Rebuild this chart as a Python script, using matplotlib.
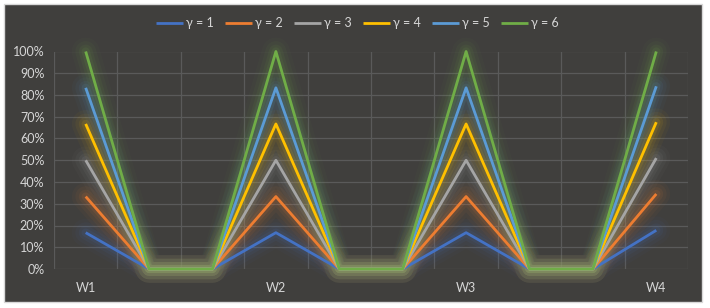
import numpy as np
import matplotlib.pyplot as plt
from matplotlib.patches import Rectangle

# categories (only every third one is labelled)
weeks = ["W1", "", "", "W2", "", "", "W3", "", "", "W4"]
labels = ["γ = 1", "γ = 2", "γ = 3", "γ = 4", "γ = 5", "γ = 6"]

g1 = [16.7, 0, 0, 16.7, 0, 0, 16.7, 0, 0, 17.8]
g2 = [33.3, 0, 0, 33.3, 0, 0, 33.3, 0, 0, 34.5]
g3 = [50.0, 0, 0, 50.0, 0, 0, 50.0, 0, 0, 51.0]
g4 = [66.7, 0, 0, 66.7, 0, 0, 66.7, 0, 0, 67.5]
g5 = [83.3, 0, 0, 83.3, 0, 0, 83.3, 0, 0, 84.0]
g6 = [100, 0, 0, 100, 0, 0, 100, 0, 0, 100]
series = [g1, g2, g3, g4, g5, g6]
colors = ["#4472C4", "#ED7D31", "#A5A5A5", "#FFC000", "#5B9BD5", "#70AD47"]

bg = "#403f3d"
grid_c = "#5a5a5a"
txt_c = "#d6d6d6"
plt.rcParams['font.family'] = ['Lato', 'DejaVu Sans']

fig = plt.figure(figsize=(7.1, 3.08), dpi=100, facecolor="white")
fig.add_artist(Rectangle((4 / 710, 6 / 308), 698 / 710, 298 / 308,
                         transform=fig.transFigure, facecolor=bg,
                         edgecolor="#d8d8d8", linewidth=1, zorder=-5))
ax = fig.add_axes([54 / 710, 39 / 308, 634 / 710, 217.5 / 308])
ax.set_facecolor(bg)

x = np.arange(len(weeks))
# soft glow under each line
for vals, c in zip(series, colors):
    for lw, a in [(20, 0.035), (15, 0.05), (10, 0.07), (6, 0.1)]:
        ax.plot(x, vals, color=c, lw=lw, alpha=a, solid_capstyle="round",
                solid_joinstyle="round", zorder=2, clip_on=False)
for vals, c, lab in zip(series, colors, labels):
    ax.plot(x, vals, color=c, lw=2, label=lab, zorder=3,
            solid_capstyle="butt", clip_on=False)

ax.set_xlim(-0.5, len(weeks) - 0.5)
ax.set_ylim(0, 100)
ax.set_yticks(np.arange(0, 101, 10))
ax.set_yticklabels([f"{v}%" for v in range(0, 101, 10)])
ax.set_xticks(x)
ax.set_xticklabels(weeks)
ax.set_xticks(np.arange(-0.5, len(weeks), 1), minor=True)
ax.grid(axis="y", color=grid_c, lw=0.9, zorder=1)
ax.grid(axis="x", which="minor", color=grid_c, lw=0.9, zorder=1)
ax.set_axisbelow(True)
ax.tick_params(which="both", length=0, colors=txt_c, labelsize=9)
ax.tick_params(axis="y", pad=7)
ax.tick_params(axis="x", pad=9)
for s in ax.spines.values():
    s.set_visible(False)

leg = fig.legend(loc="center", bbox_to_anchor=(0.503, 0.925), ncol=6,
                 frameon=False, fontsize=9, handlelength=2.2,
                 columnspacing=0.9, handletextpad=0.2)
for t in leg.get_texts():
    t.set_color(txt_c)

fig.savefig("out.png", dpi=100, facecolor="white")
